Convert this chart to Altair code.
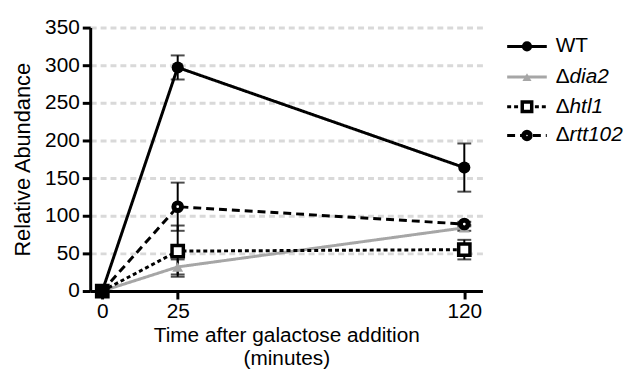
import altair as alt
import pandas as pd

times = [0, 25, 120]
series = ["WT", "dia2", "htl1", "rtt102"]
wt = [0, 297, 164]
wt_err = [0, 16, 32]
dia2 = [0, 32, 84]
dia2_err = [0, 10, 4]
htl1 = [0, 53, 55]
htl1_err = [0, 34, 13]
rtt102 = [0, 112, 89]
rtt102_err = [0, 32, 3]
legend_labels = ["WT", "dia2", "htl1", "rtt102"]
y_ticks = [0, 50, 100, 150, 200, 250, 300, 350]

vals = {"WT": (wt, wt_err), "dia2": (dia2, dia2_err), "htl1": (htl1, htl1_err), "rtt102": (rtt102, rtt102_err)}
rows = []
for s in series:
    v, e = vals[s]
    for t, y, er in zip(times, v, e):
        rows.append({"series": s, "t": t, "y": y, "lo": y - er, "hi": y + er})
df = pd.DataFrame(rows)

FONT = "Liberation Sans"
W, H = 396, 266
xs = alt.Scale(domain=[-4, 126], nice=False, zero=False)
ys = alt.Scale(domain=[0, 350], nice=False)

styles = {
    "WT": dict(color="black", dash=[1, 0], shape="circle", fill="black", size=150, sw=0),
    "dia2": dict(color="#a6a6a6", dash=[1, 0], shape="triangle-up", fill="#a6a6a6", size=120, sw=0),
    "htl1": dict(color="black", dash=[4, 3], shape="square", fill="white", size=130, sw=3.5),
    "rtt102": dict(color="black", dash=[8, 5], shape="circle", fill="white", size=60, sw=5),
}

x_axis = alt.Axis(values=times, title=["Time after galactose addition", "(minutes)"], grid=False,
                  labelFont=FONT, titleFont=FONT, labelFontSize=21, titleFontSize=21, titleLineHeight=23,
                  labelColor="black", titleColor="black", titleFontWeight="normal", titlePadding=3, labelPadding=2)
y_axis = alt.Axis(values=y_ticks, title="Relative Abundance", grid=True,
                  labelFont=FONT, titleFont=FONT, labelFontSize=21, titleFontSize=22,
                  labelColor="black", titleColor="black", titleFontWeight="normal", titlePadding=10, labelPadding=3)
X = alt.X("t:Q", scale=xs, axis=x_axis)
Y = alt.Y("y:Q", scale=ys, axis=y_axis)

base = alt.Chart(df)
layers = []
order = ["dia2", "htl1", "rtt102", "WT"]
for s in order:
    st = styles[s]
    sub = base.transform_filter(alt.datum.series == s)
    layers.append(sub.mark_line(color=st["color"], strokeWidth=3, strokeDash=st["dash"]).encode(x=X, y=Y))
for s in order:
    sub = base.transform_filter((alt.datum.series == s) & (alt.datum.t > 0))
    lo = alt.Y("lo:Q", scale=ys, axis=y_axis)
    hi = alt.Y("hi:Q", scale=ys, axis=y_axis)
    layers.append(sub.mark_rule(color="black", strokeWidth=2).encode(x=X, y=lo, y2="hi:Q"))
    layers.append(sub.mark_tick(color="black", thickness=2, size=14, orient="horizontal").encode(x=X, y=lo))
    layers.append(sub.mark_tick(color="black", thickness=2, size=14, orient="horizontal").encode(x=X, y=hi))
for s in order:
    st = styles[s]
    sub = base.transform_filter(alt.datum.series == s)
    stroke = "black" if s in ("htl1", "rtt102") else st["color"]
    layers.append(sub.mark_point(shape=st["shape"], filled=True, fill=st["fill"], stroke=stroke, strokeWidth=st["sw"], size=st["size"], opacity=1).encode(x=X, y=Y))

# manual legend
leg_rows = [19, 50, 80, 109]
lx1, lx2, lmx, ltx = 421, 461, 441, 470
for i, s in enumerate(series):
    st = styles[s]
    ldf = pd.DataFrame({"label": [legend_labels[i]]})
    lb = alt.Chart(ldf)
    layers.append(lb.mark_rule(color=st["color"], strokeWidth=3, strokeDash=st["dash"]).encode(x=alt.value(lx1), x2=alt.value(lx2), y=alt.value(leg_rows[i])))
    stroke = "black" if s in ("htl1", "rtt102") else st["color"]
    layers.append(lb.mark_point(shape=st["shape"], filled=True, fill=st["fill"], stroke=stroke, strokeWidth=st["sw"], size=st["size"] * 0.7, opacity=1).encode(x=alt.value(lmx), y=alt.value(leg_rows[i])))
    if s == "WT":
        layers.append(lb.mark_text(align="left", baseline="middle", font=FONT, fontSize=21, color="black").encode(x=alt.value(ltx), y=alt.value(leg_rows[i]), text="label:N"))
    else:
        layers.append(lb.mark_text(align="left", baseline="middle", font=FONT, fontSize=21, color="black").encode(x=alt.value(ltx), y=alt.value(leg_rows[i]), text=alt.value("Δ")))
        layers.append(lb.mark_text(align="left", baseline="middle", font=FONT, fontSize=21, fontStyle="italic", color="black").encode(x=alt.value(ltx + 14), y=alt.value(leg_rows[i]), text="label:N"))

chart = alt.layer(*layers).properties(width=W, height=H, padding={"left": 3, "top": 7, "right": 5, "bottom": 2}).configure_view(stroke=None).configure_axis(
    domainColor="black", domainWidth=3, tickColor="black", tickWidth=3, tickSize=8,
    gridColor="#d9d9d9", gridWidth=3, gridDash=[6, 4],
)

chart.save("out.html", embed_options={"renderer": "svg", "actions": False})
